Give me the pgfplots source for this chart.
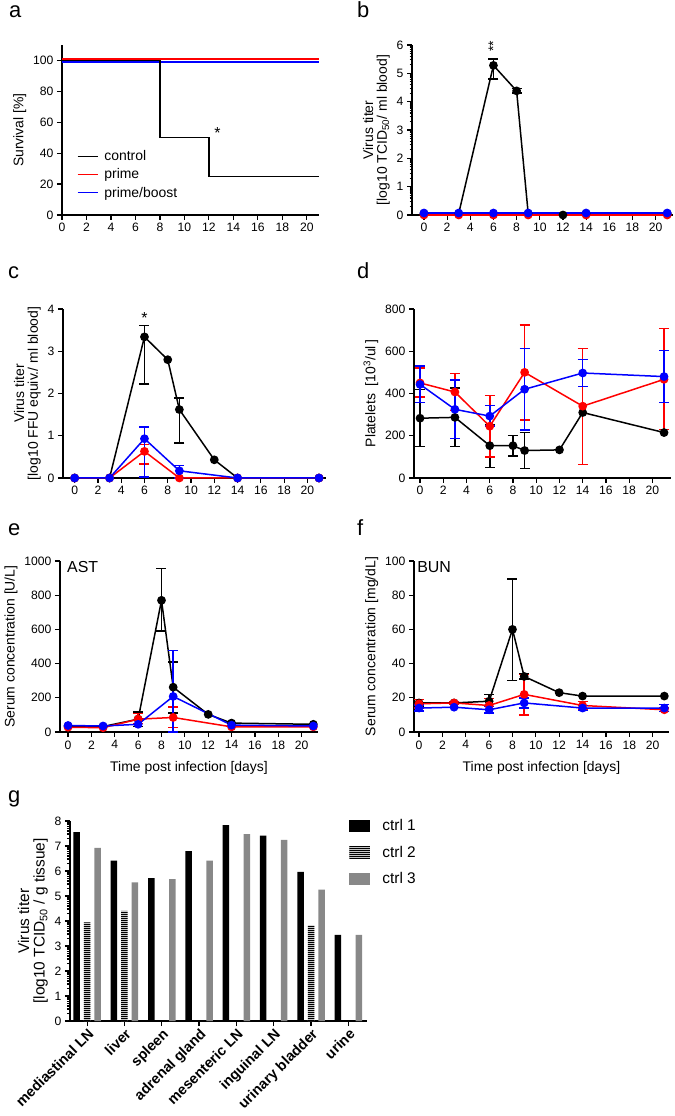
\documentclass[border=0pt]{standalone}
\usepackage{fontspec}
\setmainfont{Liberation Sans}
\usepackage{pgfplots}
\pgfplotsset{compat=1.18}
\usetikzlibrary{patterns}
\pgfdeclarepatternformonly{hstripes}{\pgfqpoint{0pt}{0pt}}{\pgfqpoint{1pt}{2.4pt}}{\pgfqpoint{1pt}{2.4pt}}{%
  \pgfpathrectangle{\pgfqpoint{0pt}{0pt}}{\pgfqpoint{1pt}{1.2pt}}\pgfusepath{fill}}
\definecolor{cblue}{RGB}{0,0,255}
\definecolor{cred}{RGB}{255,0,0}
\definecolor{cgray}{RGB}{136,136,136}
\newcommand{\fs}[1]{\fontsize{#1}{#1}\selectfont}
\pgfplotsset{
  gp/.style={
    scale only axis, anchor=south west,
    axis lines*=left,
    axis line style={line width=1.5bp, black},
    tick align=outside,
    major tick length=5bp, minor tick length=2.5bp,
    every tick/.style={black, line width=1.2bp},
    tick label style={font=\fs{12.2}},
    xlabel style={font=\fs{14}, yshift=-5bp},
    ylabel style={font=\fs{14}},
    /pgf/number format/assume math mode=true,
    /pgf/number format/1000 sep={},
    clip=false,
  },
  ser/.style={line width=1.5bp, color=#1, mark=*, mark size=3.6bp, mark options={solid, fill=#1, draw=#1}},
  eb/.style={only marks, mark=none, color=#1, forget plot,
    error bars/.cd, y dir=both, y explicit,
    error bar style={line width=1.5bp, color=#1},
    error mark options={rotate=90, line width=1.5bp, color=#1, mark size=5bp}},
  linelegend/.style={legend image code/.code={\draw[##1] (0bp,0bp) -- (20bp,0bp);}},
  sqlegend/.style={legend image code/.code={\path[##1] (0bp,-6bp) rectangle (21bp,6bp);}},
}
\begin{document}
\begin{tikzpicture}
\useasboundingbox (0,0) rectangle (675bp,1116bp);
% panel letters
\node[anchor=base west, font=\fs{22}, inner sep=0pt] at (9bp,1098bp) {a};
\node[anchor=base west, font=\fs{22}, inner sep=0pt] at (357bp,1098bp) {b};
\node[anchor=base west, font=\fs{22}, inner sep=0pt] at (8bp,837bp) {c};
\node[anchor=base west, font=\fs{22}, inner sep=0pt] at (357bp,837bp) {d};
\node[anchor=base west, font=\fs{22}, inner sep=0pt] at (8bp,580bp) {e};
\node[anchor=base west, font=\fs{22}, inner sep=0pt] at (357bp,580bp) {f};
\node[anchor=base west, font=\fs{22}, inner sep=0pt] at (8bp,313bp) {g};

% ---------- a ----------
\begin{axis}[gp, at={(62bp,901bp)}, width=257bp, height=170bp,
  xmin=0, xmax=21, ymin=0, ymax=110, xtick={0,2,...,20}, ytick={0,20,...,100},
  ylabel={Survival [\%]},
  linelegend,
  legend style={at={(axis cs:1.2,43)}, anchor=north west, draw=none, fill=none,
    font=\fs{14}, row sep=2.5bp, column sep=4bp, inner sep=0pt},
  legend cell align=left]
\addlegendimage{black, line width=1.5bp}\addlegendentry{control}
\addlegendimage{cred, line width=1.5bp}\addlegendentry{prime}
\addlegendimage{cblue, line width=1.5bp}\addlegendentry{prime/boost}
\addplot[cblue, line width=1.5bp, forget plot] coordinates {(0,99) (21,99)};
\addplot[cred, line width=1.5bp, forget plot] coordinates {(0,101) (21,101)};
\addplot[black, line width=1.5bp, const plot, forget plot] coordinates {(0,100) (8,50) (12,25) (21,25)};
\node[font=\fs{16}] at (axis cs:12.7,53) {*};
\end{axis}

% ---------- b ----------
\begin{axis}[gp, at={(412bp,901bp)}, width=261bp, height=170bp,
  xmin=-1.03, xmax=21.5, ymin=0, ymax=6, xtick={0,2,...,20}, ytick={0,...,6},
  minor ytick={0.301,0.477,0.602,0.699,0.778,0.845,0.903,0.954,
    1.301,1.477,1.602,1.699,1.778,1.845,1.903,1.954,
    2.301,2.477,2.602,2.699,2.778,2.845,2.903,2.954,
    3.301,3.477,3.602,3.699,3.778,3.845,3.903,3.954,
    4.301,4.477,4.602,4.699,4.778,4.845,4.903,4.954,
    5.301,5.477,5.602,5.699,5.778,5.845,5.903,5.954},
  ylabel={Virus titer\\{[}log10 TCID\textsubscript{50}/ ml blood{]}}, ylabel style={align=center}]
\addplot[ser=black] coordinates {(0,0.05) (3,0.05) (6,5.28) (8,4.38) (9,0.05) (12,0) (14,0.05) (21,0.05)};
\addplot[eb=black] coordinates {(6,5.28) += (0,0.22) -= (0,0.48) (8,4.38) +- (0,0.08)};
\addplot[ser=cred] coordinates {(0,0) (3,0) (6,0) (9,0) (14,0) (21,0)};
\addplot[ser=cblue] coordinates {(0,0.07) (3,0.07) (6,0.07) (9,0.07) (14,0.07) (21,0.07)};
\node[font=\fs{14}, rotate=90] at (axis cs:6,5.95) {**};
\end{axis}

% ---------- c ----------
\begin{axis}[gp, at={(63bp,638bp)}, width=263bp, height=169bp,
  xmin=-1, xmax=21.6, ymin=0, ymax=4, xtick={0,2,...,20}, ytick={0,...,4},
  ylabel={Virus titer\\{[}log10 FFU equiv./ ml blood{]}}, ylabel style={align=center}]
\addplot[ser=black] coordinates {(0,0) (3,0) (6,3.34) (8,2.80) (9,1.62) (12,0.43) (14,0) (21,0)};
\addplot[eb=black] coordinates {(6,3.34) += (0,0.27) -= (0,1.11) (9,1.62) += (0,0.27) -= (0,0.79)};
\addplot[ser=cred] coordinates {(0,0) (3,0) (6,0.63) (9,0) (14,0) (21,0)};
\addplot[eb=cred] coordinates {(6,0.63) += (0,0.16) -= (0,0.30)};
\addplot[ser=cblue] coordinates {(0,0) (3,0) (6,0.93) (9,0.17) (14,0) (21,0)};
\addplot[eb=cblue] coordinates {(6,0.93) += (0,0.28) -= (0,0.91) (9,0.17) += (0,0.12) -= (0,0.17)};
\node[font=\fs{16}] at (axis cs:6,3.78) {*};
\end{axis}

% ---------- d ----------
\begin{axis}[gp, at={(414bp,638bp)}, width=257bp, height=169bp,
  xmin=-0.52, xmax=21.6, ymin=0, ymax=800, xtick={0,2,...,20}, ytick={0,200,...,800},
  ylabel={Platelets\ \ [10\textsuperscript{3}/ul\,]}]
\addplot[ser=black] coordinates {(0,283) (3,287) (6,153) (8,153) (9,130) (12,133) (14,310) (21,215)};
\addplot[eb=black] coordinates {(0,283) += (0,137) -= (0,133) (3,287) += (0,138) -= (0,137) (6,153) += (0,100) -= (0,103) (8,153) += (0,47) -= (0,50) (9,130) += (0,85) -= (0,85)};
\addplot[ser=cred] coordinates {(0,450) (3,407) (6,245) (9,500) (14,340) (21,467)};
\addplot[eb=cred] coordinates {(0,450) += (0,70) -= (0,67) (3,407) += (0,88) -= (0,87) (6,245) += (0,145) -= (0,145) (9,500) += (0,225) -= (0,225) (14,340) += (0,273) -= (0,275) (21,467) += (0,240) -= (0,237)};
\addplot[ser=cblue] coordinates {(0,443) (3,325) (6,293) (9,420) (14,497) (21,480)};
\addplot[eb=cblue] coordinates {(0,443) += (0,87) -= (0,86) (3,325) += (0,140) -= (0,138) (6,293) += (0,50) -= (0,48) (9,420) += (0,193) -= (0,192) (14,497) += (0,63) -= (0,64) (21,480) += (0,123) -= (0,122)};
\end{axis}

% ---------- e ----------
\begin{axis}[gp, at={(60bp,384bp)}, width=258bp, height=171bp,
  xmin=-0.69, xmax=21.4, ymin=0, ymax=1000, xtick={0,2,...,20}, ytick={0,200,...,1000},
  ylabel={Serum concentration [U/L]}, xlabel={Time post infection [days]}]
\addplot[ser=black] coordinates {(0,35) (3,32) (6,75) (8,770) (9,262) (12,103) (14,52) (21,45)};
\addplot[eb=black] coordinates {(6,75) +- (0,42) (8,770) += (0,185) -= (0,180) (9,262) += (0,148) -= (0,150)};
\addplot[ser=cred] coordinates {(0,28) (3,25) (6,75) (9,85) (14,30) (21,30)};
\addplot[eb=cred] coordinates {(6,75) += (0,32) -= (0,25) (9,85) +- (0,60)};
\addplot[ser=cblue] coordinates {(0,38) (3,35) (6,45) (9,208) (14,40) (21,35)};
\addplot[eb=cblue] coordinates {(9,208) += (0,268) -= (0,208)};
\node[anchor=north west, font=\fs{16}, inner sep=0pt] at (rel axis cs:0.027,1) {AST};
\end{axis}

% ---------- f ----------
\begin{axis}[gp, at={(414bp,384bp)}, width=255bp, height=171bp,
  xmin=-0.43, xmax=21.4, ymin=0, ymax=100, xtick={0,2,...,20}, ytick={0,20,...,100},
  ylabel={Serum concentration [mg/dL]}, xlabel={Time post infection [days]}]
\addplot[ser=black] coordinates {(0,17) (3,17) (6,18) (8,60) (9,32.5) (12,23) (14,21) (21,21)};
\addplot[eb=black] coordinates {(0,17) +- (0,2) (6,18) += (0,4) -= (0,3) (8,60) += (0,29.5) -= (0,30) (9,32.5) +- (0,1.5)};
\addplot[ser=cred] coordinates {(0,16.5) (3,17) (6,15.5) (9,22) (14,15.5) (21,13)};
\addplot[eb=cred] coordinates {(0,16.5) +- (0,2.5) (3,17) +- (0,0.7) (6,15.5) +- (0,4) (9,22) += (0,11.5) -= (0,12) (14,15.5) +- (0,2.3) (21,13) +- (0,1)};
\addplot[ser=cblue] coordinates {(0,14) (3,14.5) (6,13) (9,17) (14,14) (21,14)};
\addplot[eb=cblue] coordinates {(0,14) +- (0,1.7) (6,13) +- (0,1.8) (9,17) +- (0,3) (14,14) +- (0,1.5) (21,14) +- (0,2)};
\node[anchor=north west, font=\fs{16}, inner sep=0pt] at (rel axis cs:0.012,1) {BUN};
\end{axis}

% ---------- g ----------
\begin{axis}[gp, at={(70bp,95bp)}, width=297bp, height=200bp,
  ybar=4bp, bar width=6.5bp,
  xmin=-0.46, xmax=7.5, ymin=0, ymax=8, ytick={0,...,8},
  minor ytick={0.301,0.477,0.602,0.699,0.778,0.845,0.903,0.954,
    1.301,1.477,1.602,1.699,1.778,1.845,1.903,1.954,
    2.301,2.477,2.602,2.699,2.778,2.845,2.903,2.954,
    3.301,3.477,3.602,3.699,3.778,3.845,3.903,3.954,
    4.301,4.477,4.602,4.699,4.778,4.845,4.903,4.954,
    5.301,5.477,5.602,5.699,5.778,5.845,5.903,5.954,
    6.301,6.477,6.602,6.699,6.778,6.845,6.903,6.954,
    7.301,7.477,7.602,7.699,7.778,7.845,7.903,7.954},
  xtick={0,...,7},
  xticklabels={mediastinal LN, liver, spleen, adrenal gland, mesenteric LN, inguinal LN, urinary bladder, urine},
  xticklabel style={rotate=45, anchor=north east, font=\fs{14.5}\bfseries, inner sep=1bp},
  ylabel={Virus titer\\{[}log10 TCID\textsubscript{50} / g tissue{]}}, ylabel style={align=center, font=\fs{15.5}},
  legend style={at={(rel axis cs:0.94,1.02)}, anchor=north west, draw=none, fill=none,
    font=\fs{15.5}, row sep=10bp, column sep=10bp, inner sep=0pt},
  legend cell align=left]
\addplot[sqlegend, fill=black, draw=none] coordinates {(0,7.56) (1,6.42) (2,5.72) (3,6.80) (4,7.84) (5,7.42) (6,5.97) (7,3.45)};
\addlegendentry{ctrl 1}
\addplot[sqlegend, fill=gray!45, draw=none, postaction={pattern=hstripes, pattern color=black}] coordinates {(0,3.95) (1,4.41) (6,3.83)};
\addlegendentry{ctrl 2}
\addplot[sqlegend, fill=cgray, draw=none] coordinates {(0,6.93) (1,5.55) (2,5.68) (3,6.42) (4,7.48) (5,7.25) (6,5.26) (7,3.45)};
\addlegendentry{ctrl 3}
\end{axis}
\end{tikzpicture}
\end{document}
